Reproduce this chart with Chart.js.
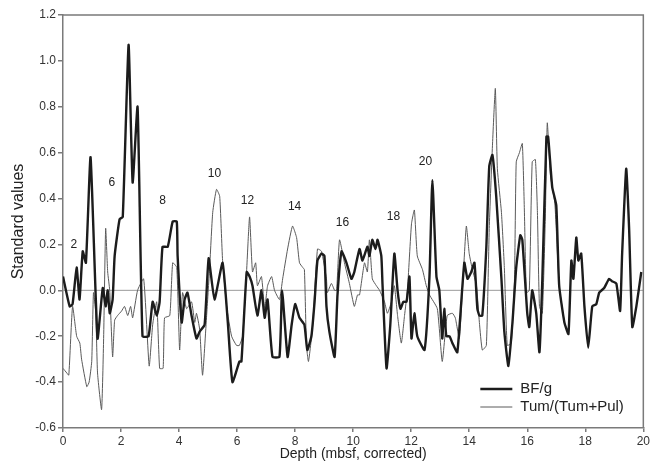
<!DOCTYPE html>
<html>
<head>
<meta charset="utf-8">
<script src="https://cdn.jsdelivr.net/npm/chart.js@4/dist/chart.umd.min.js"></script>
<style>
  html, body { margin: 0; padding: 0; background: #fff; }
  #wrap { width: 652px; height: 468px; }
</style>
</head>
<body>
<div id="wrap"><canvas id="chart" width="652" height="468"></canvas></div>
<script>
// BF/g (thick line)
const bfDepth = [0, 0.23, 0.33, 0.47, 0.57, 0.68, 0.79, 0.95, 1.19, 1.37, 1.47, 1.54, 1.61, 1.71, 1.78, 1.95, 2.06, 2.26, 2.40, 2.57,
  2.74, 2.95, 3.09, 3.23, 3.33, 3.43, 3.61, 3.78, 3.92, 3.95, 4.09, 4.19, 4.29, 4.43, 4.60, 4.71, 4.88, 5.02, 5.22, 5.50,
  5.68, 5.84, 6.08, 6.15, 6.33, 6.43, 6.53, 6.70, 6.84, 6.95, 7.05, 7.22, 7.46, 7.55, 7.74, 7.88, 8.00, 8.15, 8.32, 8.42,
  8.56, 8.67, 8.77, 8.91, 9.01, 9.08, 9.18, 9.36, 9.46, 9.60, 9.77, 9.94, 10.04, 10.22, 10.32, 10.49, 10.56, 10.66, 10.77, 10.84,
  10.97, 11.01, 11.15, 11.28, 11.42, 11.53, 11.63, 11.73, 11.84, 11.94, 12.01, 12.11, 12.21, 12.46, 12.63, 12.73, 12.87, 12.97, 13.07, 13.14,
  13.21, 13.32, 13.42, 13.59, 13.83, 13.94, 14.07, 14.18, 14.28, 14.35, 14.45, 14.59, 14.69, 14.80, 14.93, 15.11, 15.21, 15.35, 15.49, 15.62,
  15.76, 15.83, 16.00, 16.07, 16.17, 16.31, 16.42, 16.52, 16.66, 16.72, 16.86, 17.00, 17.10, 17.28, 17.42, 17.52, 17.59, 17.69, 17.76, 17.86,
  17.97, 18.10, 18.24, 18.38, 18.48, 18.65, 18.82, 18.92, 19.07, 19.20, 19.27, 19.41, 19.51, 19.62, 19.76, 19.93];
const bfValue = [0.06, -0.07, -0.06, 0.10, -0.04, 0.17, 0.12, 0.58, -0.21, 0.01, -0.07, 0.00, -0.10, -0.04, 0.15, 0.31, 0.32, 1.07, 0.47, 0.80,
  -0.20, -0.20, -0.05, -0.11, -0.05, 0.19, 0.19, 0.30, 0.30, 0.15, -0.14, -0.04, -0.01, -0.11, -0.21, -0.18, -0.15, 0.14, -0.04, 0.12,
  -0.14, -0.40, -0.31, -0.31, 0.08, 0.06, 0.02, -0.11, 0.00, -0.12, -0.04, -0.29, -0.29, 0.00, -0.29, -0.15, -0.06, -0.12, -0.15, -0.26,
  -0.20, -0.05, 0.13, 0.16, 0.15, -0.07, -0.18, -0.29, -0.02, 0.17, 0.12, 0.05, 0.08, 0.18, 0.13, 0.19, 0.15, 0.22, 0.18, 0.22,
  0.15, 0.03, -0.34, -0.15, 0.16, 0.00, -0.08, -0.05, -0.05, 0.06, -0.21, -0.10, -0.20, -0.26, 0.06, 0.48, 0.06, 0.00, -0.21, -0.08,
  -0.20, -0.20, -0.23, -0.27, 0.12, 0.05, 0.08, 0.12, -0.08, -0.11, -0.11, 0.19, 0.54, 0.59, 0.41, 0.05, -0.18, -0.33, -0.14, 0.10,
  0.24, 0.22, -0.10, -0.16, 0.00, -0.10, -0.27, 0.05, 0.67, 0.67, 0.45, 0.37, 0.02, -0.14, -0.19, 0.13, 0.05, 0.23, 0.13, 0.16,
  -0.07, -0.25, -0.07, -0.06, -0.01, 0.01, 0.05, 0.04, 0.03, -0.09, 0.16, 0.53, 0.27, -0.16, -0.07, 0.08];

// Tum/(Tum+Pul) (thin line)
const tumDepth = [0, 0.13, 0.20, 0.33, 0.47, 0.58, 0.64, 0.82, 0.90, 0.99, 1.05, 1.13, 1.19, 1.33, 1.40, 1.47, 1.54, 1.61, 1.71, 1.78,
  1.88, 2.02, 2.12, 2.23, 2.33, 2.40, 2.57, 2.78, 2.97, 3.09, 3.23, 3.33, 3.45, 3.50, 3.68, 3.78, 3.92, 4.02, 4.12, 4.26,
  4.43, 4.54, 4.60, 4.71, 4.81, 4.95, 5.05, 5.16, 5.29, 5.40, 5.50, 5.64, 5.81, 5.98, 6.08, 6.19, 6.33, 6.43, 6.53, 6.64,
  6.70, 6.84, 6.95, 7.05, 7.19, 7.29, 7.46, 7.57, 7.74, 7.91, 8.05, 8.15, 8.26, 8.32, 8.39, 8.46, 8.60, 8.77, 8.91, 9.08,
  9.11, 9.25, 9.36, 9.43, 9.53, 9.70, 9.87, 10.04, 10.15, 10.22, 10.39, 10.49, 10.56, 10.66, 10.80, 10.91, 11.08, 11.18, 11.32, 11.42,
  11.53, 11.66, 11.77, 11.87, 12.01, 12.11, 12.21, 12.39, 12.52, 12.63, 12.90, 13.07, 13.24, 13.42, 13.52, 13.66, 13.76, 13.90, 14.00, 14.11,
  14.25, 14.35, 14.45, 14.59, 14.69, 14.80, 14.90, 14.97, 15.11, 15.21, 15.31, 15.45, 15.56, 15.62, 15.73, 15.83, 15.90, 15.97, 16.07, 16.17,
  16.28, 16.35, 16.42, 16.52, 16.62, 16.69, 16.80, 16.95, 17.10, 17.28];
const tumValue = [-0.34, -0.36, -0.37, -0.07, -0.20, -0.23, -0.30, -0.42, -0.40, -0.31, -0.01, -0.10, -0.36, -0.52, -0.21, 0.27, 0.08, 0.00, -0.29, -0.13,
  -0.11, -0.09, -0.07, -0.11, -0.07, -0.12, 0.00, 0.05, -0.33, -0.15, -0.05, -0.34, -0.34, -0.12, -0.11, 0.12, 0.10, -0.26, -0.01, -0.08,
  -0.05, -0.14, -0.10, -0.17, -0.37, -0.11, 0.09, 0.34, 0.44, 0.41, 0.13, -0.07, -0.20, -0.24, -0.24, -0.20, 0.09, 0.32, 0.08, 0.12,
  0.02, 0.06, -0.08, 0.02, 0.06, 0.00, -0.04, 0.05, 0.18, 0.28, 0.23, 0.12, 0.10, 0.09, -0.24, -0.31, -0.16, 0.18, 0.17, 0.05,
  -0.01, 0.03, 0.00, 0.00, 0.22, 0.12, 0.03, -0.07, -0.02, -0.02, 0.12, 0.08, 0.22, 0.05, 0.02, 0.00, -0.05, -0.10, -0.05, 0.02,
  -0.11, -0.23, -0.11, 0.00, 0.29, 0.35, 0.15, 0.09, 0.02, -0.02, -0.08, -0.31, -0.11, -0.10, -0.12, -0.21, -0.01, 0.28, 0.16, 0.09,
  0.02, -0.14, -0.26, -0.24, 0.27, 0.63, 0.88, 0.53, 0.34, 0.10, -0.24, -0.23, 0.05, 0.56, 0.60, 0.64, 0.35, -0.01, 0.00, 0.56,
  0.57, 0.34, -0.07, -0.10, 0.30, 0.73, 0.50, 0.38, 0.02, -0.14];

// sample numbers written above the curves
const sampleLabels = ['2', '6', '8', '10', '12', '14', '16', '18', '20'];
const sampleLabelDepth = [0.37, 1.68, 3.43, 5.22, 6.36, 7.98, 9.63, 11.39, 12.49];
const sampleLabelValue = [0.20, 0.47, 0.39, 0.51, 0.39, 0.365, 0.295, 0.32, 0.56];

const yTicks = [-0.6, -0.4, -0.2, 0.0, 0.2, 0.4, 0.6, 0.8, 1.0, 1.2];
const xTicks = [0, 2, 4, 6, 8, 10, 12, 14, 16, 18, 20];

const FONT = '"Liberation Sans", Arial, Helvetica, sans-serif';
const AXIS = '#7a7a7a';

function pairs(xs, ys) {
  return xs.map((x, i) => ({ x: x, y: ys[i] }));
}

const framePlugin = {
  id: 'frame',
  beforeDatasetsDraw(chart) {
    const { ctx, chartArea: a, scales } = chart;
    const y0 = scales.y.getPixelForValue(0);
    ctx.save();
    ctx.strokeStyle = '#9a9a9a';
    ctx.lineWidth = 1;
    ctx.beginPath();
    ctx.moveTo(a.left, y0);
    ctx.lineTo(a.right, y0);
    ctx.stroke();
    ctx.restore();
  },
  afterDraw(chart) {
    const { ctx, chartArea: a, scales } = chart;
    ctx.save();
    // top and right edges of the box
    ctx.strokeStyle = AXIS;
    ctx.lineWidth = 1.5;
    ctx.beginPath();
    ctx.moveTo(a.left, a.top);
    ctx.lineTo(a.right, a.top);
    ctx.lineTo(a.right, a.bottom);
    ctx.stroke();

    // sample numbers
    ctx.fillStyle = '#222';
    ctx.font = '12px ' + FONT;
    ctx.textAlign = 'center';
    ctx.textBaseline = 'middle';
    sampleLabels.forEach((t, i) => {
      ctx.fillText(t, scales.x.getPixelForValue(sampleLabelDepth[i]), scales.y.getPixelForValue(sampleLabelValue[i]));
    });

    // legend, lower right
    const lx = a.right - 163, ly = a.bottom - 39;
    ctx.font = '15px ' + FONT;
    ctx.textAlign = 'left';
    chart.data.datasets.forEach((ds, i) => {
      const y = ly + i * 18;
      ctx.strokeStyle = ds.borderColor;
      ctx.lineWidth = ds.borderWidth;
      ctx.beginPath();
      ctx.moveTo(lx, y);
      ctx.lineTo(lx + 32, y);
      ctx.stroke();
      ctx.fillStyle = '#222';
      ctx.fillText(ds.label, lx + 40, y);
    });
    ctx.restore();
  }
};

new Chart(document.getElementById('chart'), {
  type: 'line',
  data: {
    datasets: [
      {
        label: 'BF/g',
        data: pairs(bfDepth, bfValue),
        borderColor: '#1c1c1c',
        borderWidth: 2.4,
        pointRadius: 0,
        tension: 0.15,
        order: 1
      },
      {
        label: 'Tum/(Tum+Pul)',
        data: pairs(tumDepth, tumValue),
        borderColor: '#5a5a5a',
        borderWidth: 1,
        pointRadius: 0,
        tension: 0.15,
        order: 2
      }
    ]
  },
  options: {
    responsive: false,
    animation: false,
    layout: { padding: { left: 0, right: 8, top: 15, bottom: 0 } },
    plugins: {
      legend: { display: false },
      tooltip: { enabled: false }
    },
    scales: {
      x: {
        type: 'linear',
        min: 0,
        max: 20,
        afterBuildTicks: s => { s.ticks = xTicks.map(v => ({ value: v })); },
        afterFit: s => { s.height = 40; },
        grid: { display: true, drawOnChartArea: false, drawTicks: true, tickLength: 4, color: AXIS, lineWidth: 1.5 },
        border: { display: true, color: AXIS, width: 1.5 },
        ticks: { color: '#333', font: { family: FONT, size: 12 }, padding: 2, maxRotation: 0 },
        title: { display: true, text: 'Depth (mbsf, corrected)', color: '#222', font: { family: FONT, size: 14 }, padding: { top: 0, bottom: 5 } }
      },
      y: {
        min: -0.6,
        max: 1.2,
        afterBuildTicks: s => { s.ticks = yTicks.map(v => ({ value: v })); },
        afterFit: s => { s.width = 63; },
        grid: { display: true, drawOnChartArea: false, drawTicks: true, tickLength: 5, color: AXIS, lineWidth: 1.5 },
        border: { display: true, color: AXIS, width: 1.5 },
        ticks: { color: '#333', font: { family: FONT, size: 12 }, padding: 2, callback: v => v.toFixed(1) },
        title: { display: true, text: 'Standard values', color: '#222', font: { family: FONT, size: 16 }, padding: { top: 9, bottom: 0 } }
      }
    }
  },
  plugins: [framePlugin]
});
</script>
</body>
</html>
